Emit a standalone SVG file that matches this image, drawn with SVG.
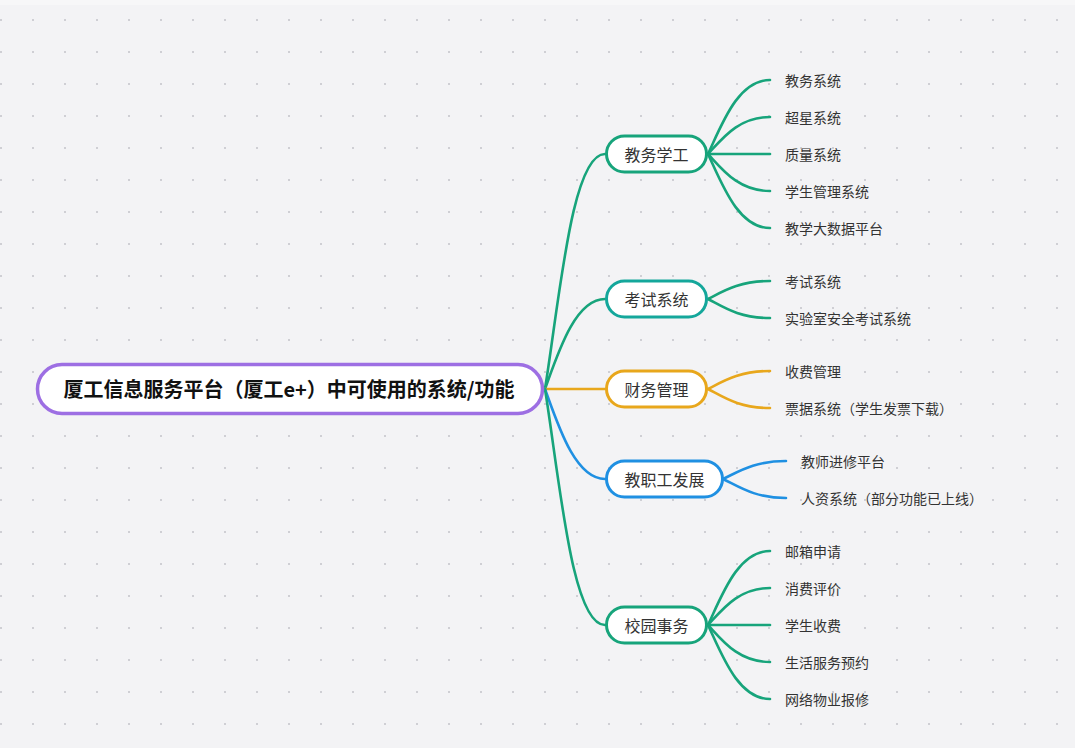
<svg xmlns="http://www.w3.org/2000/svg" width="1075" height="748" viewBox="0 0 1075 748">
<defs>
<pattern id="dots" x="0" y="19" width="32" height="32" patternUnits="userSpaceOnUse">
<rect x="0" y="0" width="2" height="2" fill="#cfcfd4"/>
</pattern>
<style>
.bg{fill:#f3f3f5}
.root{fill:#ffffff;stroke:#9d6fe3;stroke-width:3.5}
.node{fill:#ffffff;stroke-width:3}
.g{stroke:#17a47b}
.t{stroke:#14a79b}
.o{stroke:#e8a71c}
.b{stroke:#1f90e2}
.ln{fill:none;stroke-width:2.6;stroke-linecap:round}
text{font-family:"Noto Sans CJK SC","Noto Sans",sans-serif;fill:#333333;dominant-baseline:central}
.rt{font-size:20px;font-weight:bold;fill:#111111;text-anchor:middle}
.bt{font-size:16px;text-anchor:middle}
.lt{font-size:14px}
</style>
</defs>
<rect class="bg" x="0" y="0" width="1075" height="748"/>
<rect x="0" y="0" width="1075" height="5" fill="#f7f7f8"/>
<rect x="0" y="0" width="1075" height="748" fill="url(#dots)"/>

<g id="connectors">
<path class="ln g" d="M545,389 C560,295 572,154 605,154"/>
<path class="ln g" d="M545,389 C558,353 575,299 605,299"/>
<path class="ln o" d="M545,389 L605,389"/>
<path class="ln b" d="M545,389 C558,425 575,479 605,479"/>
<path class="ln g" d="M545,389 C560,483 572,625 605,625"/>
<path class="ln g" d="M708,154 C722,124 738,80 770,80"/>
<path class="ln g" d="M708,154 C722,139 738,117 770,117"/>
<path class="ln g" d="M708,154 L770,154"/>
<path class="ln g" d="M708,154 C722,169 738,191 770,191"/>
<path class="ln g" d="M708,154 C722,184 738,228 770,228"/>
<path class="ln g" d="M708,299 C722,292 738,281 770,281"/>
<path class="ln g" d="M708,299 C722,306 738,318 770,318"/>
<path class="ln o" d="M708,389 C722,382 738,371 770,371"/>
<path class="ln o" d="M708,389 C722,396 738,408 770,408"/>
<path class="ln b" d="M723,479 C738,472 754,461 786,461"/>
<path class="ln b" d="M723,479 C738,486 754,498 786,498"/>
<path class="ln g" d="M708,625 C722,595 738,551 770,551"/>
<path class="ln g" d="M708,625 C722,610 738,588 770,588"/>
<path class="ln g" d="M708,625 L770,625"/>
<path class="ln g" d="M708,625 C722,640 738,662 770,662"/>
<path class="ln g" d="M708,625 C722,655 738,699 770,699"/>
</g>

<g id="root">
<rect class="root" x="37.5" y="364.5" width="505" height="49" rx="24.5"/>
<text class="rt" x="289" y="388.5">厦工信息服务平台（厦工e+）中可使用的系统/功能</text>
</g>

<g id="n-jiaowu">
<rect class="node g" x="606.5" y="136" width="100" height="36" rx="18"/>
<text class="bt" x="656.5" y="153.5">教务学工</text>
</g>
<g id="n-kaoshi">
<rect class="node t" x="606.5" y="281" width="100" height="36" rx="18"/>
<text class="bt" x="656.5" y="298.5">考试系统</text>
</g>
<g id="n-caiwu">
<rect class="node o" x="606.5" y="371" width="100" height="36" rx="18"/>
<text class="bt" x="656.5" y="388.5">财务管理</text>
</g>
<g id="n-jiaozhigong">
<rect class="node b" x="606.5" y="461" width="116" height="36" rx="18"/>
<text class="bt" x="664.5" y="478.5">教职工发展</text>
</g>
<g id="n-xiaoyuan">
<rect class="node g" x="606.5" y="607" width="100" height="36" rx="18"/>
<text class="bt" x="656.5" y="624.5">校园事务</text>
</g>

<g id="leaves">
<text class="lt" x="785" y="79.5">教务系统</text>
<text class="lt" x="785" y="116.5">超星系统</text>
<text class="lt" x="785" y="153.5">质量系统</text>
<text class="lt" x="785" y="190.5">学生管理系统</text>
<text class="lt" x="785" y="227.5">教学大数据平台</text>
<text class="lt" x="785" y="280.5">考试系统</text>
<text class="lt" x="785" y="317.5">实验室安全考试系统</text>
<text class="lt" x="785" y="370.5">收费管理</text>
<text class="lt" x="785" y="407.5">票据系统（学生发票下载）</text>
<text class="lt" x="801" y="460.5">教师进修平台</text>
<text class="lt" x="801" y="497.5">人资系统（部分功能已上线）</text>
<text class="lt" x="785" y="550.5">邮箱申请</text>
<text class="lt" x="785" y="587.5">消费评价</text>
<text class="lt" x="785" y="624.5">学生收费</text>
<text class="lt" x="785" y="661.5">生活服务预约</text>
<text class="lt" x="785" y="698.5">网络物业报修</text>
</g>
</svg>
